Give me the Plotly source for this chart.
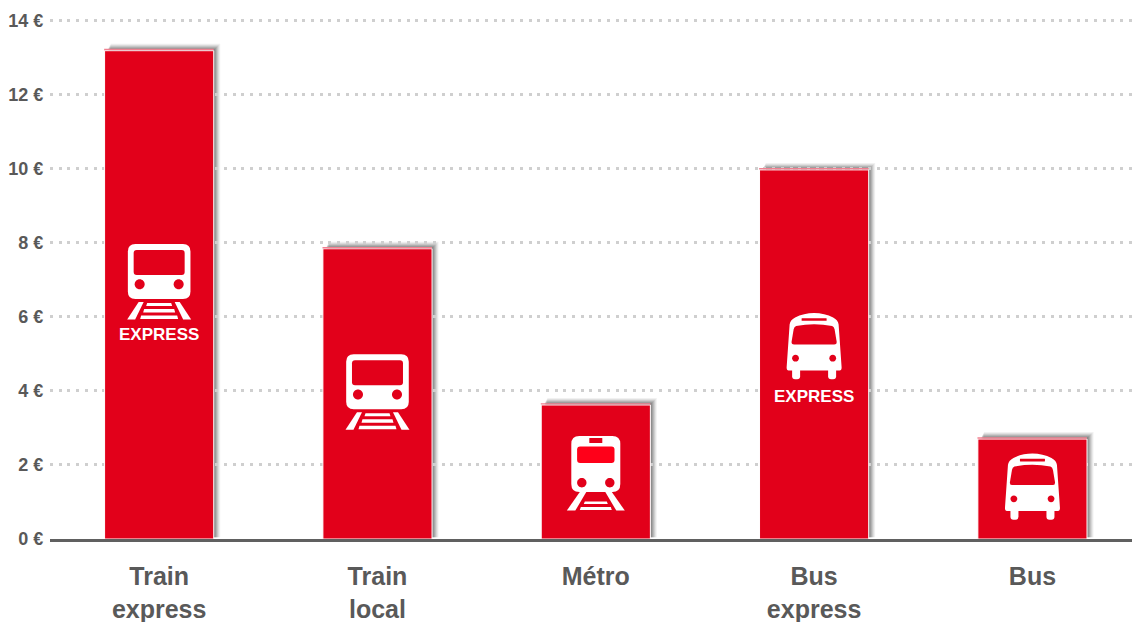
import plotly.graph_objects as go

categories = ["Train<br>express", "Train<br>local", "Métro", "Bus<br>express", "Bus"]
prices = [13.19, 7.84, 3.62, 9.97, 2.70]
ytick_vals = [0, 2, 4, 6, 8, 10, 12, 14]
ytick_text = ["0 €", "2 €", "4 €", "6 €", "8 €", "10 €", "12 €", "14 €"]

icon_kind = ["train", "train", "metro", "bus", "bus"]
icon_top = [7.97, 4.99, 2.78, 6.12, 2.32]  # top of each pictogram, on the y axis
express_y = [5.52, None, None, 3.85, None]

RED = "#e2001a"
GREY = "#595959"
FONT = "Liberation Sans Narrow, Arial Narrow, Liberation Sans"


def path(*cmds):
    # points are written y-down, pixel shapes want y-up
    out = []
    for c in cmds:
        nums = c[1:]
        pts = [str(n if i % 2 == 0 else -n) for i, n in enumerate(nums)]
        out.append(c[0] + ",".join(pts))
    return " ".join(out)


def rrect(x0, y0, x1, y1, r):
    return path(
        ("M", x0 + r, y0), ("L", x1 - r, y0), ("Q", x1, y0, x1, y0 + r),
        ("L", x1, y1 - r), ("Q", x1, y1, x1 - r, y1), ("L", x0 + r, y1),
        ("Q", x0, y1, x0, y1 - r), ("L", x0, y0 + r), ("Q", x0, y0, x0 + r, y0), ("Z",),
    )


def poly(*pts):
    cmds = [("M",) + pts[0]] + [("L",) + p for p in pts[1:]] + [("Z",)]
    return path(*cmds)


def dot(x, y, r):
    k = r * 0.55
    return path(
        ("M", x - r, y), ("C", x - r, y - k, x - k, y - r, x, y - r),
        ("C", x + k, y - r, x + r, y - k, x + r, y),
        ("C", x + r, y + k, x + k, y + r, x, y + r),
        ("C", x - k, y + r, x - r, y + k, x - r, y), ("Z",),
    )


def train_parts():
    return [
        (rrect(-31.3, 0, 31.3, 55, 7.5), "white"),
        (rrect(-25.5, 6, 25.5, 31, 3), RED),
        (dot(-19.5, 40.3, 5), RED),
        (dot(19.5, 40.3, 5), RED),
        (poly((-20.5, 58), (-15.5, 58), (-24, 75.5), (-32, 75.5)), "white"),
        (poly((15.5, 58), (20.5, 58), (32, 75.5), (24, 75.5)), "white"),
        (poly((-12, 59), (12, 59), (13, 62), (-13, 62)), "white"),
        (poly((-15, 65), (15, 65), (16, 68.5), (-16, 68.5)), "white"),
        (poly((-18, 71.5), (18, 71.5), (19, 75), (-19, 75)), "white"),
    ]


def metro_parts():
    return [
        (rrect(-24.5, 0, 24.5, 56, 8), "white"),
        (rrect(-6.5, 2, 6.5, 7, 0.5), RED),
        (rrect(-18.7, 10.5, 18.7, 27, 3), "#ff0019"),
        (dot(-14, 46.7, 4.7), RED),
        (dot(14, 46.7, 4.7), RED),
        (poly((-16, 56), (-9.5, 56), (-20.5, 74.5), (-29, 74.5)), "white"),
        (poly((9.5, 56), (16, 56), (29, 74.5), (20.5, 74.5)), "white"),
        (poly((-11, 65.5), (11, 65.5), (12, 68), (-12, 68)), "white"),
        (poly((-15, 71), (15, 71), (16, 74), (-16, 74)), "white"),
    ]


def bus_parts():
    body = path(
        ("M", -25.5, 58), ("Q", -27.5, 58, -27.5, 55), ("L", -24.5, 12),
        ("Q", -24, 7.5, -19, 5), ("C", -8, -1, 8, -1, 19, 5),
        ("Q", 24, 7.5, 24.5, 12), ("L", 27.5, 55), ("Q", 27.5, 58, 25.5, 58), ("Z",),
    )
    window = path(
        ("M", -18, 13.5), ("Q", 0, 10, 18, 13.5), ("Q", 20, 14, 20.5, 17),
        ("L", 22.5, 29), ("Q", 23, 32, 20, 32), ("L", -20, 32),
        ("Q", -23, 32, -22.5, 29), ("L", -20.5, 17), ("Q", -20, 14, -18, 13.5), ("Z",),
    )
    return [
        (body, "white"),
        (rrect(-22, 54, -14, 66.7, 3), "white"),
        (rrect(14, 54, 22, 66.7, 3), "white"),
        (window, RED),
        (rrect(-12.5, 5.7, 12.5, 8.3, 0.3), RED),
        (dot(-18.6, 45.7, 3.4), RED),
        (dot(18.6, 45.7, 3.4), RED),
    ]


icons = {"train": train_parts, "metro": metro_parts, "bus": bus_parts}

fig = go.Figure()
fig.add_trace(go.Bar(
    x=list(range(len(categories))),
    y=prices,
    width=0.5,
    marker=dict(color=RED, line=dict(color="white", width=1)),
    hoverinfo="skip",
))

shapes = []
# soft grey drop shadow, up and to the right of each bar
for i, v in enumerate(prices):
    for grow, op in [(7, 0.08), (6, 0.10), (5, 0.14), (4, 0.18), (3, 0.22), (2, 0.26)]:
        shapes.append(dict(
            type="rect", layer="below", xref="x", yref="y",
            xsizemode="pixel", xanchor=i,
            x0=-52 + grow / 2, x1=54 + grow,
            y0=0.05, y1=v + grow / 37,
            fillcolor="#505050", opacity=op, line_width=0,
        ))
    shapes.append(dict(
        type="rect", layer="above", xref="x", yref="y",
        xsizemode="pixel", xanchor=i,
        x0=-55, x1=54.5, y0=v + 0.01, y1=v + 0.05,
        fillcolor="#f08090", line_width=0,
    ))

for i, kind in enumerate(icon_kind):
    for d, color in icons[kind]():
        shapes.append(dict(
            type="path", layer="above", xref="x", yref="y",
            xsizemode="pixel", ysizemode="pixel",
            xanchor=i, yanchor=icon_top[i],
            path=d, fillcolor=color, line_width=0,
        ))

annotations = [
    dict(x=i, y=y, xref="x", yref="y", text="<b>EXPRESS</b>", showarrow=False,
         font=dict(family=FONT, size=17, color="white"))
    for i, y in enumerate(express_y) if y is not None
]

fig.update_layout(
    width=1132,
    height=622,
    margin=dict(l=50, r=0, t=17, b=83),
    paper_bgcolor="white",
    plot_bgcolor="white",
    showlegend=False,
    shapes=shapes,
    annotations=annotations,
    font=dict(family=FONT, color=GREY),
    xaxis=dict(
        range=[-0.5, 4.456],
        tickvals=list(range(len(categories))),
        ticktext=[f"<b>{c}</b>".replace("<br>", "</b><br><b>") for c in categories],
        tickangle=0,
        tickfont=dict(family=FONT, size=25, color=GREY),
        automargin=False,
        showgrid=False,
        zeroline=False,
        showline=True,
        linecolor="#606060",
        linewidth=3,
        ticks="outside",
        ticklen=13,
        tickcolor="rgba(0,0,0,0)",
    ),
    yaxis=dict(
        range=[0, 14.1],
        tickvals=ytick_vals,
        ticktext=[f"<b>{t}</b>" for t in ytick_text],
        tickfont=dict(family=FONT, size=18, color=GREY),
        automargin=False,
        showgrid=True,
        gridcolor="#cfcfcf",
        gridwidth=3,
        griddash="3px,5.7px",
        zeroline=False,
        showline=False,
        ticks="outside",
        ticklen=2,
        tickcolor="rgba(0,0,0,0)",
    ),
)

fig.write_html("out.html", config=dict(displayModeBar=False), post_script="document.body.style.margin='0';")
